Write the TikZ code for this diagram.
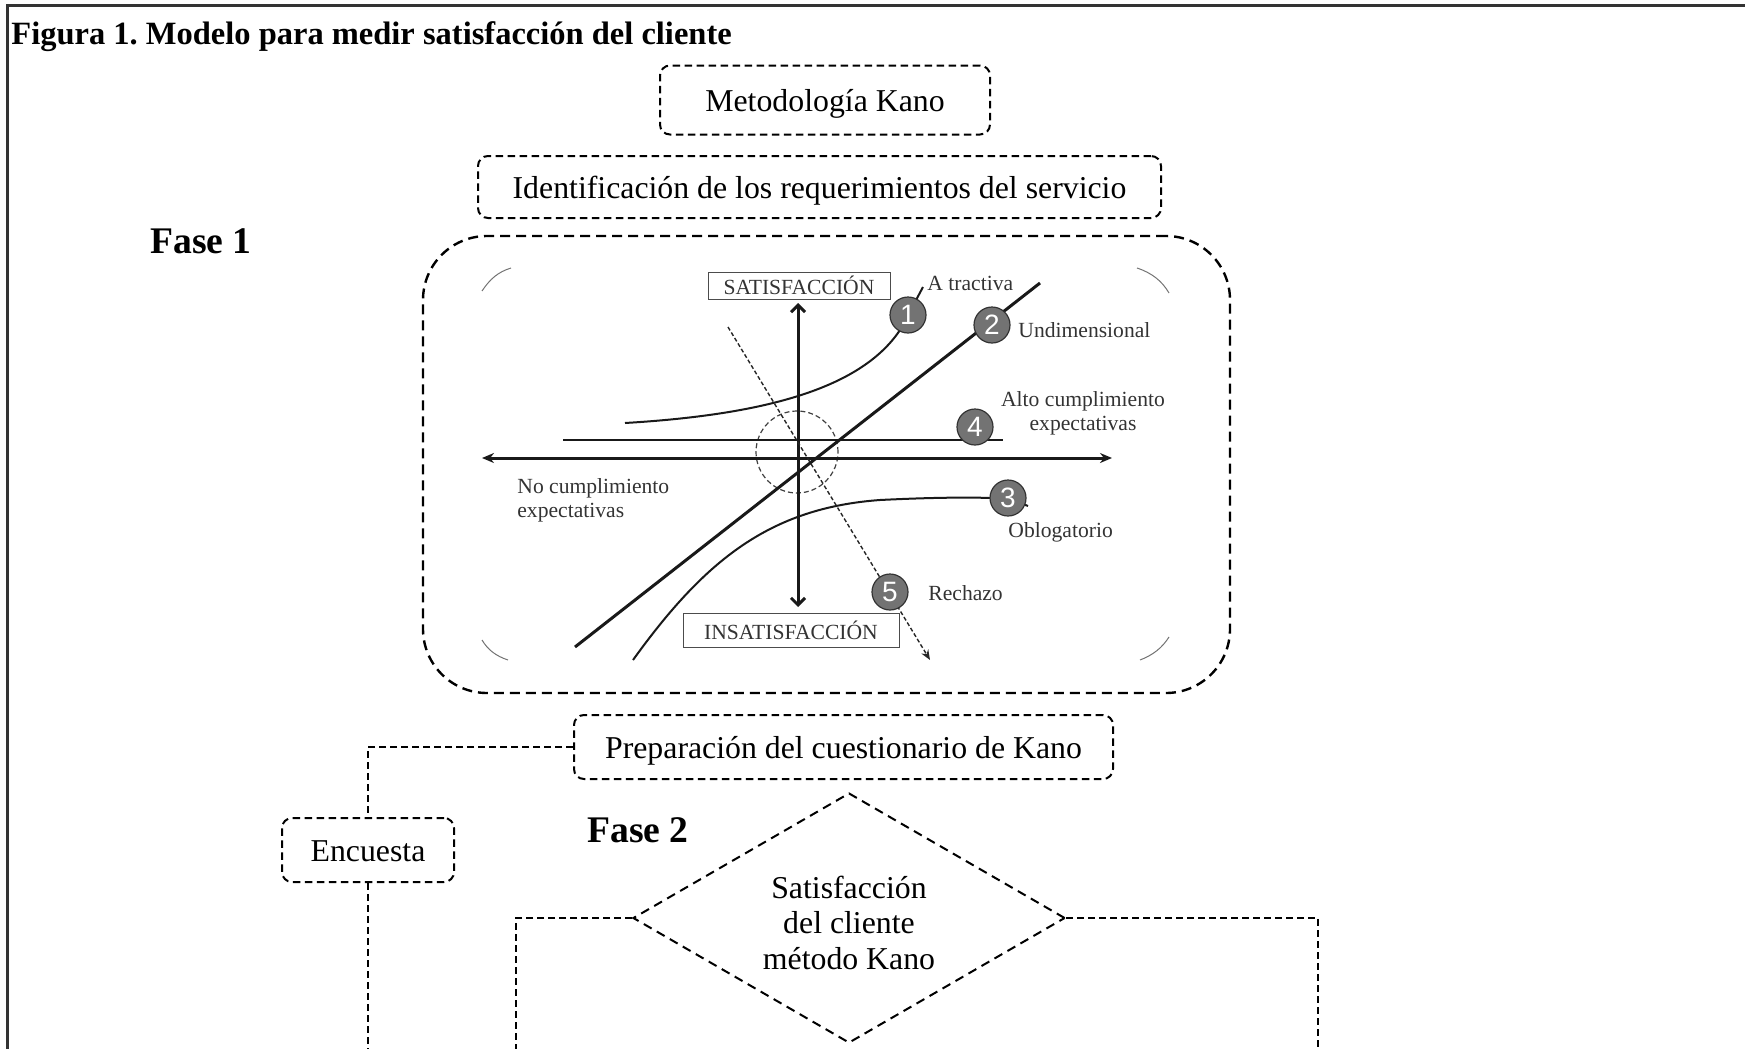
\documentclass[tikz,border=0pt]{standalone}
\usepackage{fontspec}
\setmainfont{Liberation Serif}
\newfontfamily\digitfont{Liberation Sans}
\usetikzlibrary{shapes.geometric,arrows.meta}
\frenchspacing

\begin{document}
\begin{tikzpicture}[x=0.5pt,y=-0.5pt,
  stepbox/.style={draw, line width=1pt, dash pattern=on 3.75pt off 2.25pt,
    rounded corners=5pt, inner sep=0pt, align=center,
    text height=13pt, text depth=1.5pt,
    font=\fontsize{15.9}{19}\selectfont},
  link/.style={line width=0.6pt, dash pattern=on 3.5pt off 2pt},
  phase/.style={font=\bfseries\fontsize{18.8}{22}\selectfont, anchor=base west, inner sep=0pt},
  lbl/.style={font=\fontsize{10.8}{12}\selectfont, text=black!80, inner sep=0pt},
  tag/.style={draw=black!70, line width=0.5pt, lbl},
  badge/.style={circle, fill=black!55, draw=black!80, line width=0.6pt,
    minimum size=18pt, inner sep=0pt, text=white,
    font=\digitfont\fontsize{14}{14}\selectfont},
  axis/.style={line width=1.5pt, black!90},
  curve/.style={line width=1pt, black!90},
  corner/.style={line width=0.5pt, black!55},
]
\useasboundingbox (0,0) rectangle (1745,1049);

% outer frame (top and left rules)
\draw[line width=1.5pt, black!80] (7,1049) -- (7,5) -- (1745,5);

% title
\node[anchor=base west, inner sep=0pt, font=\bfseries\fontsize{16.25}{19}\selectfont]
  (title) at (11,44) {Figura 1. Modelo para medir satisfacción del cliente};

% phase 1
\node[stepbox, minimum width=165pt, minimum height=34.5pt] (kano) at (825,100) {Metodología Kano};
\node[stepbox, minimum width=341.5pt, minimum height=31pt] (ident) at (819.5,187)
  {Identificación de los requerimientos del servicio};
\node[phase] (fase1) at (150,253) {Fase 1};

\node[draw, line width=1.2pt, dash pattern=on 5pt off 3pt, rounded corners=32pt,
  minimum width=403.5pt, minimum height=228.5pt] (model) at (826.5,464.5) {};

% Kano chart
\draw[corner] (482,291) .. controls (490,279) and (498,272) .. (511,268);
\draw[corner] (1137,268) .. controls (1152,273) and (1162,281) .. (1169,293);
\draw[corner] (482,640) .. controls (488,650) and (496,656) .. (508,660);
\draw[corner] (1169,637) .. controls (1162,648) and (1153,655) .. (1140,660);

\draw[black!75, line width=0.6pt, dash pattern=on 2.5pt off 1.5pt] (797,452) circle[radius=20.5pt];

\draw[axis, {Stealth[length=6pt,width=5pt]}-{Stealth[length=6pt,width=5pt]}] (482,458) -- (1112,458);
\draw[axis, {Straight Barb[length=3.5pt,width=7pt]}-{Straight Barb[length=3.5pt,width=7pt]}] (798,303) -- (798,607);

\draw[line width=1.2pt, black!90] (563,440) -- (1003,440);
\draw[line width=1.5pt, black!90] (575,647) -- (1040,283);
\draw[curve] (625,423) .. controls (760,415) and (860,390) .. (900,330) -- (923,287);
\draw[curve] (633,660) .. controls (705,560) and (770,508) .. (880,500)
  .. controls (940,497) and (985,497) .. (1010,499) -- (1028,506);
\draw[line width=0.7pt, black!85, dash pattern=on 2pt off 1.2pt, -{Stealth[length=5pt,width=4pt]}]
  (728,327) -- (930,660);

\node[tag, minimum width=91pt, minimum height=13.5pt] (satis) at (799,285.5) {SATISFACCIÓN};
\node[tag, minimum width=108pt, minimum height=17pt] (insatis) at (791,630) {INSATISFACCIÓN};

\node[badge] (b1) at (908,315) {1};
\node[badge] (b2) at (992,325) {2};
\node[badge] (b3) at (1008,498) {3};
\node[badge] (b4) at (975,427) {4};
\node[badge] (b5) at (890,592) {5};

\node[lbl, anchor=west] (latr) at (927,283) {A tractiva};
\node[lbl, anchor=west] (lund) at (1018,330) {Undimensional};
\node[lbl, align=center] (lalto) at (1083,413) {Alto cumplimiento\\expectativas};
\node[lbl, align=left, anchor=west] (lno) at (517,500) {No cumplimiento\\expectativas};
\node[lbl, anchor=west] (lobl) at (1008,532) {Oblogatorio};
\node[lbl, anchor=west] (lrec) at (928,593) {Rechazo};

% phase 2
\node[stepbox, minimum width=269.5pt, minimum height=32pt] (prep) at (843.5,747)
  {Preparación del cuestionario de Kano};
\node[stepbox, minimum width=86pt, minimum height=32pt] (enc) at (368,850) {Encuesta};
\node[phase] (fase2) at (587,842) {Fase 2};

\node[diamond, draw, line width=1pt, dash pattern=on 4.5pt off 3pt, aspect=1.728,
  minimum width=216pt, minimum height=125pt, inner sep=0pt,
  label={[align=center, yshift=-2.3pt, font=\fontsize{15.9}{17.75}\selectfont]center:Satisfacción\\del cliente\\método Kano}]
  (sat) at (849,918) {};

% connectors
\coordinate (encEnd) at (368,1049);
\coordinate (leftEnd) at (516,1049);
\coordinate (rightEnd) at (1318,1049);
\draw[link] (prep.west) -| (enc.north);
\draw[link] (enc.south) -- (encEnd);
\draw[link] (sat.west) -| (leftEnd);
\draw[link] (sat.east) -| (rightEnd);
\end{tikzpicture}
\end{document}
